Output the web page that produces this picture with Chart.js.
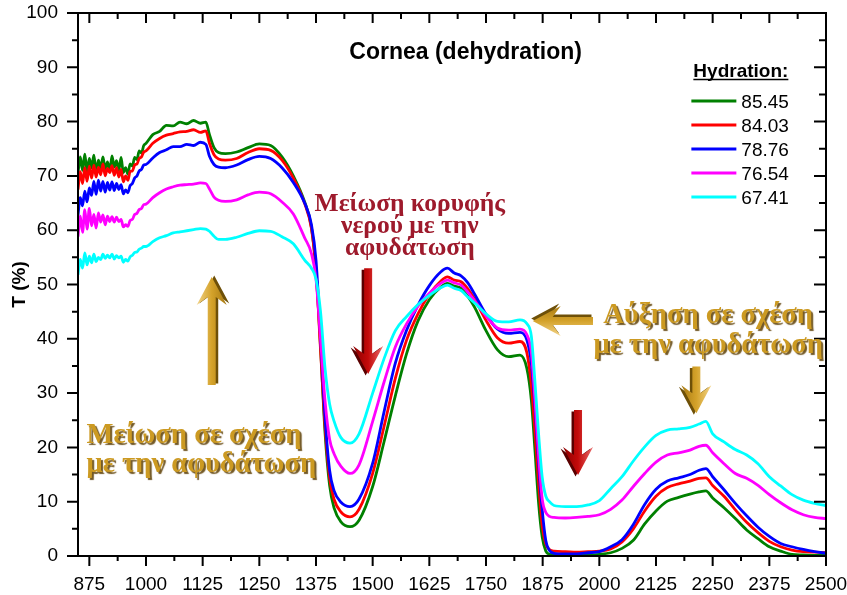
<!DOCTYPE html>
<html>
<head>
<meta charset="utf-8">
<script src="https://cdn.jsdelivr.net/npm/chart.js@4.4.1/dist/chart.umd.min.js"></script>
<style>
  html, body { margin: 0; padding: 0; background: #ffffff; }
  #wrap { width: 847px; height: 595px; }
</style>
</head>
<body>
<div id="wrap"><canvas id="c" width="847" height="595"></canvas></div>
<script>
// Wavelength grid (nm) shared by all spectra; denser where the signal is noisy
const wavelengths = [850,855,860,865,870,875,880,885,890,895,900,905,910,915,920,925,930,935,940,945,950,955,960,965,970,975,980,985,990,995,
  1000,1015,1030,1045,1060,1075,1090,1105,1120,1132,
  1140,1150,1160,1175,1200,1225,1250,1275,1300,1325,1350,1365,1375,1385,1395,1405,1415,1430,1450,1470,1500,1525,1550,1575,1600,1625,1650,1665,1680,1695,1710,1725,1750,1775,1800,1825,1840,1850,1858,1866,1874,1882,1890,1900,1925,1950,1975,2000,2025,2050,2075,2100,2125,2150,2175,2200,2220,2235,2250,2275,2300,2325,2350,2375,2400,2425,2450,2475,2500];

// Transmittance T (%) for each hydration level
const t8545 = [70.5,73.5,71.0,74.0,70.8,73.2,71.5,73.8,70.6,72.9,71.4,73.5,71.2,72.6,70.9,73.7,71.6,72.8,71.0,73.4,70.6,71.5,70.3,72.2,71.8,73.4,73.0,74.6,74.2,75.6,
  76.0,77.6,78.2,79.3,79.2,79.9,79.6,80.2,79.7,79.9,
  77.6,75.2,74.3,74.1,74.4,75.2,75.9,75.6,73.5,70.0,65.2,60.5,52.5,38.5,22.6,13.0,8.8,6.3,5.4,6.6,12.8,21.0,29.5,37.3,43.3,47.2,49.5,50.2,49.7,49.3,47.8,45.8,41.5,38.0,36.7,37.0,34.6,28.7,19.5,9.8,3.5,0.9,0.3,0.2,0.2,0.2,0.2,0.3,0.6,1.4,2.9,5.9,8.3,10.1,10.8,11.4,11.8,12.0,10.7,8.9,6.9,4.8,3.2,1.7,0.9,0.3,0.2,0.1,0.1];
const t8403 = [67.5,70.8,68.6,71.5,69.0,71.8,69.6,72.0,69.8,71.6,70.2,72.2,70.0,71.4,70.6,71.9,70.1,71.5,69.8,71.2,68.9,70.0,69.2,70.8,70.9,72.0,72.2,73.2,73.5,74.4,
  74.6,76.0,76.9,77.5,77.8,78.1,78.2,78.5,78.0,78.3,
  76.0,73.9,73.1,72.9,73.2,74.3,75.0,74.7,72.9,69.6,64.9,60.3,52.6,38.0,23.8,14.4,10.4,8.1,7.2,8.6,15.2,23.8,32.7,39.8,44.6,48.2,50.6,51.4,50.8,50.5,49.2,47.3,43.4,40.2,39.2,39.5,37.5,31.5,23.0,13.5,5.5,2.2,1.2,0.9,0.8,0.7,0.8,0.9,1.3,2.6,5.0,8.3,11.0,12.6,13.3,13.8,14.3,14.4,13.0,11.0,8.5,6.2,4.3,2.7,1.7,1.1,0.8,0.7,0.6];
const t7876 = [62.8,66.0,64.5,67.2,65.2,67.8,66.4,69.0,66.6,69.2,67.2,69.0,67.0,68.8,67.4,68.9,67.3,68.6,67.5,68.4,66.7,67.4,66.9,68.2,68.6,69.6,70.0,70.9,71.2,72.0,
  72.1,73.3,74.3,74.8,75.4,75.4,75.8,75.6,76.2,75.8,
  73.6,72.1,71.6,71.5,72.0,73.0,73.6,73.2,71.5,68.8,65.0,61.0,54.5,40.5,25.5,15.8,12.0,9.9,9.1,10.5,17.1,26.5,35.5,41.6,46.2,49.8,52.3,53.0,52.1,51.6,50.3,48.2,44.5,41.8,41.0,41.2,39.8,35.5,27.5,17.0,8.5,2.8,1.0,0.5,0.4,0.4,0.6,0.8,1.7,3.0,5.8,9.5,12.3,13.8,14.4,15.0,15.8,16.1,14.6,12.2,9.7,7.4,5.3,3.6,2.3,1.7,1.2,0.8,0.5];
const t7654 = [58.8,62.6,59.6,63.8,60.2,64.0,60.8,62.9,60.4,63.2,61.5,62.8,61.0,62.6,61.6,62.5,61.5,62.4,61.6,62.0,60.6,61.0,60.7,61.8,62.0,62.9,63.1,63.8,64.0,64.7,
  64.8,66.0,66.9,67.6,68.0,68.3,68.4,68.5,68.7,68.6,
  67.6,66.1,65.5,65.3,65.6,66.5,67.0,66.7,65.2,63.0,58.6,55.7,51.0,40.0,28.5,21.5,18.8,16.5,15.2,16.8,24.8,32.0,38.5,42.8,46.0,48.4,50.2,50.8,50.3,49.9,48.6,47.0,44.2,42.0,41.6,41.8,40.8,37.5,28.7,18.5,10.5,8.0,7.3,7.1,7.0,7.1,7.3,7.6,8.6,10.3,12.8,15.2,17.3,18.6,19.0,19.5,20.2,20.4,19.0,17.0,15.2,14.3,13.0,11.3,9.8,8.5,7.6,7.1,6.9];
const t6741 = [51.8,54.6,53.0,55.8,53.6,55.2,54.0,55.6,54.2,55.0,54.6,55.6,54.8,55.4,54.9,55.6,54.7,55.3,54.9,55.2,54.1,54.6,54.3,55.1,55.4,55.9,56.0,56.5,56.7,57.0,
  57.0,57.9,58.6,59.0,59.5,59.7,59.9,60.1,60.3,60.2,
  59.8,58.9,58.3,58.3,58.7,59.4,59.9,59.8,58.8,57.5,54.5,53.0,51.0,45.0,34.5,28.0,24.8,21.8,20.8,22.5,30.0,36.3,41.5,44.1,46.3,48.0,49.4,49.9,49.3,48.9,47.7,46.6,44.6,43.2,43.1,43.5,42.8,40.5,32.0,22.5,14.5,11.0,10.0,9.3,9.1,9.1,9.4,10.2,12.4,14.6,17.5,20.1,22.2,23.2,23.4,23.7,24.3,24.8,22.5,21.0,19.6,18.6,17.0,14.6,12.9,11.3,10.3,9.7,9.3];

const hydrationLabels = ['85.45', '84.03', '78.76', '76.54', '67.41'];
const xTickValues = [875, 1000, 1125, 1250, 1375, 1500, 1625, 1750, 1875, 2000, 2125, 2250, 2375, 2500];
const yTickValues = [0, 10, 20, 30, 40, 50, 60, 70, 80, 90, 100];

const titleText = 'Cornea (dehydration)';
const legendTitle = 'Hydration:';
const yAxisTitle = 'T (%)';
const waterPeakNote = ['Μείωση κορυφής', 'νερού με την', 'αφυδάτωση'];
const decreaseNote = ['Μείωση σε σχέση', 'με την αφυδάτωση'];
const increaseNote = ['Αύξηση σε σχέση', 'με την αφυδάτωση'];

const lineColors = ['#008000', '#ff0000', '#0000ff', '#ff00ff', '#00ffff'];
const seriesValues = [t8545, t8403, t7876, t7654, t6741];

const SANS = '"Liberation Sans", Arial, sans-serif';
const SERIF = '"Liberation Serif", "Times New Roman", serif';
const GOLD = '#cc9a22';
const DARKRED = '#9e1a2c';

const datasets = seriesValues.map((vals, i) => ({
  label: hydrationLabels[i],
  data: wavelengths.map((w, k) => ({ x: w, y: vals[k] })),
  borderColor: lineColors[i],
  backgroundColor: lineColors[i],
  borderWidth: 2.8,
  pointRadius: 0,
  fill: false,
  cubicInterpolationMode: 'monotone',
  order: seriesValues.length - i
}));

// Arrow with a notched head and a simple bevel shading, from tail to tip
function drawArrow(ctx, x0, y0, x1, y1, shades) {
  const len = Math.hypot(x1 - x0, y1 - y0);
  const ang = Math.atan2(y1 - y0, x1 - x0);
  const sw = 4, hl = 28, hw = 15, notch = 8;
  const shape = () => {
    ctx.beginPath();
    ctx.moveTo(0, -sw);
    ctx.lineTo(len - hl + notch, -sw);
    ctx.lineTo(len - hl, -hw);
    ctx.lineTo(len, 0);
    ctx.lineTo(len - hl, hw);
    ctx.lineTo(len - hl + notch, sw);
    ctx.lineTo(0, sw);
    ctx.closePath();
  };
  ctx.save();
  ctx.translate(x0, y0);
  ctx.rotate(ang);
  ctx.save();
  ctx.translate(1.5, 2.5);
  shape();
  ctx.fillStyle = shades[3];
  ctx.fill();
  ctx.restore();
  const g = ctx.createLinearGradient(0, -hw, 0, hw);
  g.addColorStop(0, shades[0]);
  g.addColorStop(0.5, shades[1]);
  g.addColorStop(1, shades[2]);
  shape();
  ctx.fillStyle = g;
  ctx.fill();
  ctx.restore();
}

function drawLines(ctx, lines, x, y, step, align) {
  ctx.textAlign = align;
  lines.forEach((t, i) => ctx.fillText(t, x, y + i * step));
}

// Keep label overhang from shrinking the plot area
function noOverhang(s) {
  s.paddingLeft = 0; s.paddingRight = 0; s.paddingTop = 0; s.paddingBottom = 0;
}

const decorPlugin = {
  id: 'decor',
  afterDraw(chart) {
    const { ctx, chartArea: a, scales: { x, y } } = chart;
    ctx.save();

    // frame
    ctx.strokeStyle = '#000';
    ctx.lineWidth = 2;
    ctx.strokeRect(a.left, a.top, a.right - a.left, a.bottom - a.top);

    // tick marks: outward on bottom/left, inward on top/right
    ctx.lineWidth = 2;
    ctx.beginPath();
    xTickValues.forEach((v, i) => {
      const px = x.getPixelForValue(v);
      ctx.moveTo(px, a.bottom); ctx.lineTo(px, a.bottom + 10);
      ctx.moveTo(px, a.top); ctx.lineTo(px, a.top + 10);
      if (i < xTickValues.length - 1) {
        const m = x.getPixelForValue((v + xTickValues[i + 1]) / 2);
        ctx.moveTo(m, a.bottom); ctx.lineTo(m, a.bottom + 5);
        ctx.moveTo(m, a.top); ctx.lineTo(m, a.top + 6);
      }
    });
    yTickValues.forEach((v, i) => {
      const py = y.getPixelForValue(v);
      ctx.moveTo(a.left - 11, py); ctx.lineTo(a.left, py);
      ctx.moveTo(a.right - 12, py); ctx.lineTo(a.right, py);
      if (i < yTickValues.length - 1) {
        const m = y.getPixelForValue((v + yTickValues[i + 1]) / 2);
        ctx.moveTo(a.left - 6, m); ctx.lineTo(a.left, m);
        ctx.moveTo(a.right - 7, m); ctx.lineTo(a.right, m);
      }
    });
    ctx.stroke();

    // y axis title
    ctx.save();
    ctx.translate(20, (a.top + a.bottom) / 2);
    ctx.rotate(-Math.PI / 2);
    ctx.fillStyle = '#000';
    ctx.font = 'bold 19px ' + SANS;
    ctx.textAlign = 'center';
    ctx.textBaseline = 'middle';
    ctx.fillText(yAxisTitle, 0, 0);
    ctx.restore();

    // chart title
    ctx.fillStyle = '#000';
    ctx.font = 'bold 23px ' + SANS;
    ctx.textAlign = 'center';
    ctx.textBaseline = 'alphabetic';
    ctx.fillText(titleText, x.getPixelForValue(1705), y.getPixelForValue(91.6));

    // legend
    const lx = x.getPixelForValue(2203);
    ctx.font = 'bold 19px ' + SANS;
    ctx.textAlign = 'left';
    const hx = lx + 2;
    const hy = y.getPixelForValue(88.2);
    ctx.fillText(legendTitle, hx, hy);
    const hwid = ctx.measureText(legendTitle).width;
    ctx.lineWidth = 1.6;
    ctx.beginPath();
    ctx.moveTo(hx, hy + 2.5); ctx.lineTo(hx + hwid, hy + 2.5);
    ctx.stroke();
    ctx.font = '19px ' + SANS;
    hydrationLabels.forEach((lab, i) => {
      const ry = y.getPixelForValue(83.8) + i * 24;
      ctx.strokeStyle = lineColors[i];
      ctx.lineWidth = 3;
      ctx.beginPath();
      ctx.moveTo(lx, ry); ctx.lineTo(lx + 45, ry);
      ctx.stroke();
      ctx.fillStyle = '#000';
      ctx.fillText(lab, lx + 50, ry + 7);
    });

    // water-peak note (dark red)
    ctx.fillStyle = DARKRED;
    ctx.font = 'bold 25.5px ' + SERIF;
    drawLines(ctx, waterPeakNote, x.getPixelForValue(1582), y.getPixelForValue(63.5), 21.7, 'center');

    // gold notes with a drop shadow
    ctx.save();
    ctx.shadowColor = 'rgba(90, 60, 0, 0.85)';
    ctx.shadowOffsetX = 2;
    ctx.shadowOffsetY = 2;
    ctx.shadowBlur = 1;
    ctx.fillStyle = GOLD;
    ctx.font = 'bold 28.5px ' + SERIF;
    drawLines(ctx, decreaseNote, x.getPixelForValue(869), y.getPixelForValue(20.8), 29, 'left');
    drawLines(ctx, increaseNote, x.getPixelForValue(2240), y.getPixelForValue(42.9), 29.5, 'center');
    ctx.restore();

    // arrows
    const goldShades = ['#f2d387', '#d4a22a', '#a87a12', '#6e5008'];
    const redShades = ['#e86a6a', '#c40a0a', '#8c0000', '#5a0000'];
    drawArrow(ctx, x.getPixelForValue(1145), y.getPixelForValue(31.5), x.getPixelForValue(1145), y.getPixelForValue(51.4), goldShades);
    drawArrow(ctx, x.getPixelForValue(1490), y.getPixelForValue(53.0), x.getPixelForValue(1490), y.getPixelForValue(33.5), redShades);
    drawArrow(ctx, x.getPixelForValue(1986), y.getPixelForValue(43.3), x.getPixelForValue(1853), y.getPixelForValue(43.3), goldShades);
    drawArrow(ctx, x.getPixelForValue(1953), y.getPixelForValue(26.9), x.getPixelForValue(1953), y.getPixelForValue(14.9), redShades);
    drawArrow(ctx, x.getPixelForValue(2214), y.getPixelForValue(34.9), x.getPixelForValue(2214), y.getPixelForValue(26.3), goldShades);

    ctx.restore();
  }
};

new Chart(document.getElementById('c'), {
  type: 'line',
  data: { datasets },
  options: {
    responsive: false,
    devicePixelRatio: 1,
    animation: false,
    layout: { padding: { top: 13, right: 21, left: 0, bottom: 0 } },
    plugins: { legend: { display: false }, tooltip: { enabled: false }, title: { display: false } },
    scales: {
      x: {
        type: 'linear',
        min: 850,
        max: 2500,
        afterBuildTicks: (s) => { s.ticks = xTickValues.map(v => ({ value: v })); },
        afterFit: (s) => { s.height = 39; noOverhang(s); },
        grid: { display: false, drawTicks: false },
        border: { display: false },
        ticks: {
          autoSkip: false,
          maxRotation: 0,
          padding: 17,
          color: '#000',
          font: { family: SANS, size: 19 },
          callback: (v) => String(v)
        }
      },
      y: {
        type: 'linear',
        min: 0,
        max: 100,
        afterBuildTicks: (s) => { s.ticks = yTickValues.map(v => ({ value: v })); },
        afterFit: (s) => { s.width = 78; noOverhang(s); },
        grid: { display: false, drawTicks: false },
        border: { display: false },
        ticks: {
          padding: 20,
          color: '#000',
          font: { family: SANS, size: 19 },
          callback: (v) => String(v)
        }
      }
    }
  },
  plugins: [decorPlugin]
});
</script>
</body>
</html>
